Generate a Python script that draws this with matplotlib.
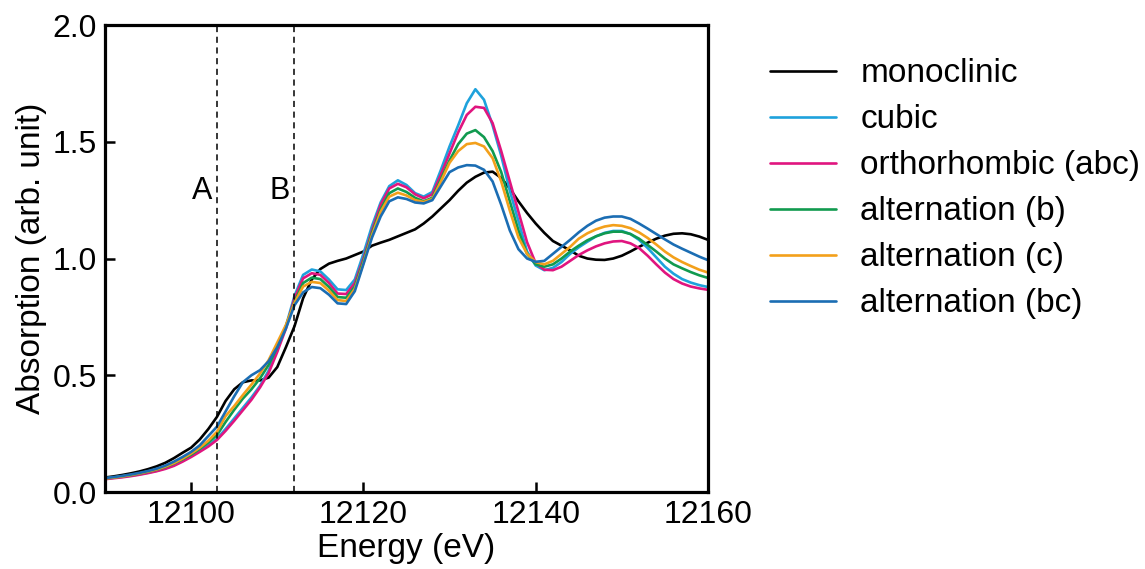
import matplotlib
matplotlib.use("Agg")
import matplotlib.pyplot as plt

plt.rcParams['font.family'] = ['Liberation Sans', 'DejaVu Sans']

energy = list(range(12090, 12161))

monoclinic = [
    0.062, 0.067, 0.073, 0.080, 0.088, 0.098, 0.110, 0.125, 0.145, 0.168,
    0.190, 0.225, 0.270, 0.322, 0.390, 0.440, 0.470, 0.478, 0.478, 0.490,
    0.535, 0.620, 0.710, 0.830, 0.910, 0.955, 0.978, 0.990, 1.000, 1.015,
    1.030, 1.055, 1.068, 1.080, 1.095, 1.110, 1.125, 1.150, 1.180, 1.215,
    1.250, 1.290, 1.325, 1.350, 1.368, 1.372, 1.345, 1.300, 1.245, 1.195,
    1.150, 1.110, 1.075, 1.055, 1.035, 1.012, 1.000, 0.995, 0.994, 1.000,
    1.012, 1.030, 1.050, 1.068, 1.085, 1.098, 1.106, 1.108, 1.104, 1.094,
    1.080,
]

cubic = [
    0.057, 0.061, 0.065, 0.070, 0.076, 0.083, 0.091, 0.102, 0.115, 0.133,
    0.155, 0.178, 0.200, 0.228, 0.270, 0.315, 0.360, 0.405, 0.455, 0.520,
    0.610, 0.710, 0.840, 0.930, 0.953, 0.945, 0.910, 0.868, 0.865, 0.910,
    1.020, 1.140, 1.240, 1.310, 1.335, 1.315, 1.280, 1.265, 1.285, 1.380,
    1.480, 1.570, 1.665, 1.725, 1.680, 1.570, 1.440, 1.290, 1.160, 1.030,
    0.970, 0.950, 0.960, 0.985, 1.020, 1.048, 1.072, 1.095, 1.110, 1.118,
    1.118, 1.105, 1.080, 1.045, 1.005, 0.965, 0.935, 0.912, 0.897, 0.886,
    0.878,
]

orthorhombic_abc = [
    0.055, 0.059, 0.063, 0.068, 0.074, 0.081, 0.089, 0.099, 0.112, 0.130,
    0.150, 0.172, 0.195, 0.223, 0.262, 0.305, 0.350, 0.395, 0.448, 0.510,
    0.600, 0.700, 0.830, 0.915, 0.937, 0.930, 0.895, 0.850, 0.848, 0.895,
    1.000, 1.120, 1.230, 1.300, 1.320, 1.305, 1.275, 1.258, 1.275, 1.360,
    1.450, 1.540, 1.615, 1.650, 1.645, 1.580, 1.460, 1.330, 1.200, 1.070,
    0.980, 0.952, 0.950, 0.965, 0.990, 1.015, 1.035, 1.052, 1.065, 1.073,
    1.075, 1.065, 1.045, 1.012, 0.975, 0.940, 0.912, 0.893, 0.880, 0.872,
    0.866,
]

alternation_b = [
    0.058, 0.062, 0.067, 0.072, 0.079, 0.087, 0.096, 0.107, 0.122, 0.140,
    0.160, 0.185, 0.212, 0.244, 0.300, 0.352, 0.400, 0.440, 0.487, 0.545,
    0.620, 0.710, 0.815, 0.895, 0.918, 0.912, 0.878, 0.835, 0.832, 0.880,
    0.990, 1.110, 1.210, 1.280, 1.300, 1.285, 1.260, 1.245, 1.260, 1.340,
    1.420, 1.490, 1.535, 1.550, 1.520, 1.460, 1.370, 1.245, 1.120, 1.020,
    0.975, 0.965, 0.975, 1.000, 1.030, 1.055, 1.078, 1.095, 1.108, 1.115,
    1.115, 1.105, 1.085, 1.058, 1.030, 1.000, 0.975, 0.958, 0.942, 0.928,
    0.917,
]

alternation_c = [
    0.058, 0.062, 0.067, 0.073, 0.080, 0.088, 0.097, 0.109, 0.124, 0.143,
    0.165, 0.190, 0.220, 0.258, 0.325, 0.368, 0.415, 0.460, 0.508, 0.565,
    0.640, 0.715, 0.810, 0.880, 0.900, 0.895, 0.862, 0.822, 0.818, 0.870,
    0.980, 1.100, 1.200, 1.265, 1.282, 1.270, 1.250, 1.242, 1.255, 1.330,
    1.410, 1.460, 1.490, 1.495, 1.480, 1.430, 1.330, 1.205, 1.090, 1.020,
    0.985, 0.975, 0.990, 1.020, 1.050, 1.085, 1.108, 1.125, 1.137, 1.143,
    1.140, 1.130, 1.112, 1.088, 1.060, 1.030, 1.005, 0.985, 0.968, 0.952,
    0.940,
]

alternation_bc = [
    0.060, 0.064, 0.069, 0.075, 0.082, 0.090, 0.100, 0.113, 0.130, 0.150,
    0.172, 0.200, 0.240, 0.280, 0.345, 0.410, 0.470, 0.500, 0.522, 0.560,
    0.620, 0.700, 0.800, 0.855, 0.878, 0.873, 0.845, 0.808, 0.805, 0.860,
    0.975, 1.090, 1.180, 1.245, 1.262, 1.255, 1.240, 1.236, 1.250, 1.310,
    1.370, 1.390, 1.400, 1.398, 1.380, 1.330, 1.230, 1.120, 1.040, 1.000,
    0.986, 0.990, 1.020, 1.050, 1.080, 1.112, 1.140, 1.162, 1.175, 1.180,
    1.180, 1.170, 1.150, 1.128, 1.105, 1.082, 1.060, 1.042, 1.025, 1.008,
    0.993,
]

series_names = ["monoclinic", "cubic", "orthorhombic (abc)",
                "alternation (b)", "alternation (c)", "alternation (bc)"]
series_values = [monoclinic, cubic, orthorhombic_abc,
                 alternation_b, alternation_c, alternation_bc]
colors = ["#000000", "#1ea2dc", "#e0157f", "#119a4f", "#f3a01b", "#1b6db3"]

marker_energies = [12103, 12112]
marker_labels = ["A", "B"]

fig = plt.figure(figsize=(11.45, 5.69), dpi=100)
ax = fig.add_axes([0.0917, 0.1353, 0.5266, 0.8207])

for name, vals, c in zip(series_names, series_values, colors):
    ax.plot(energy, vals, color=c, lw=1.9, label=name,
            solid_joinstyle="round", solid_capstyle="round")

for e, lab in zip(marker_energies, marker_labels):
    ax.axvline(e, color="black", lw=1.1, ls=(0, (4, 3)))
    ax.text(e - 0.5, 1.29, lab, ha="right", va="center", fontsize=22)

ax.set_xlim(12090, 12160)
ax.set_ylim(0, 2.0)
ax.set_xticks([12100, 12120, 12140, 12160])
ax.set_yticks([0.0, 0.5, 1.0, 1.5, 2.0])
ax.set_yticklabels(["0.0", "0.5", "1.0", "1.5", "2.0"])
ax.tick_params(direction="in", length=7, width=1.8, labelsize=23, pad=6)
for s in ax.spines.values():
    s.set_linewidth(2.3)
ax.set_xlabel("Energy (eV)", fontsize=24, labelpad=2)
ax.set_ylabel("Absorption (arb. unit)", fontsize=24, labelpad=4)

fig.legend(loc="upper left", bbox_to_anchor=(0.6605, 0.921), frameon=False,
           fontsize=24, handlelength=2.0, handletextpad=0.72, labelspacing=0.45,
           borderaxespad=0)

fig.savefig("out.png", dpi=100)
